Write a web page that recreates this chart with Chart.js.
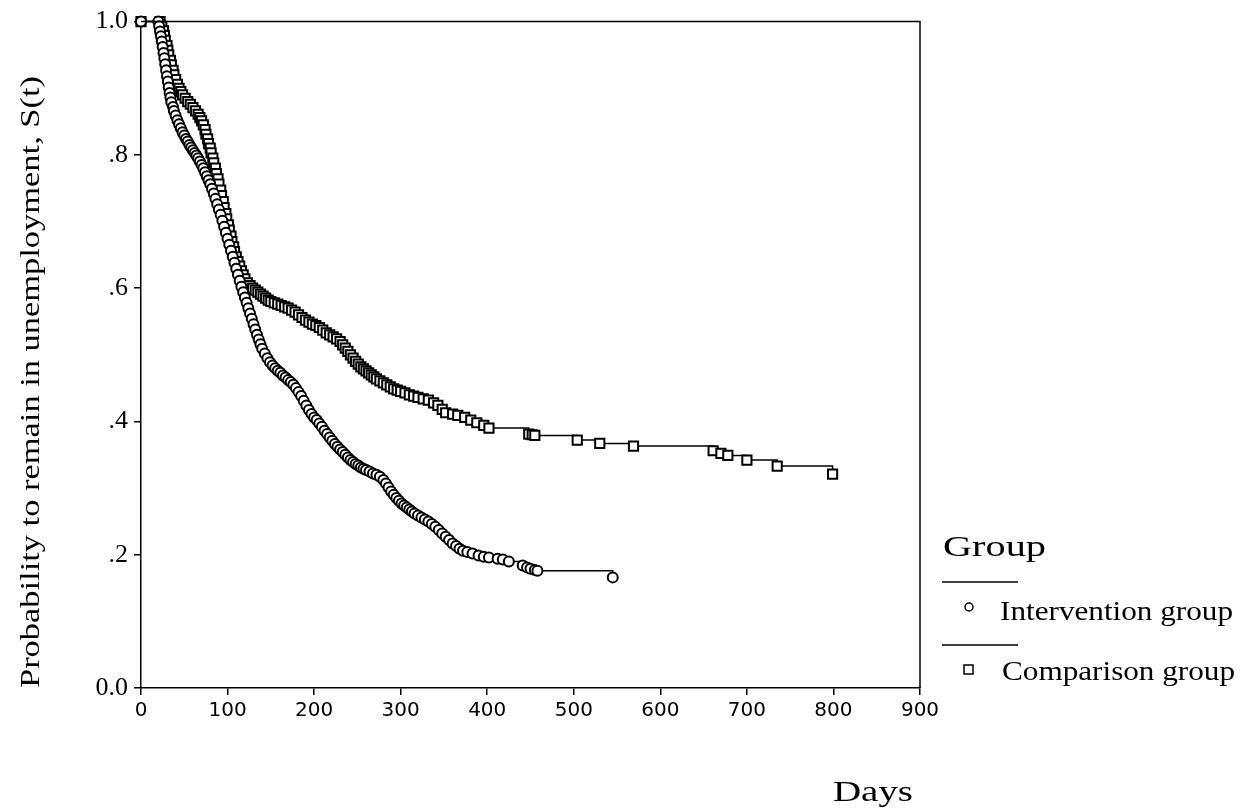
<!DOCTYPE html>
<html>
<head>
<meta charset="utf-8">
<script src="https://cdn.jsdelivr.net/npm/chart.js@4.4.1/dist/chart.umd.min.js"></script>
<style>
  html, body { margin: 0; padding: 0; background: #fff; }
  #wrap { width: 1242px; height: 810px; }
</style>
</head>
<body>
<div id="wrap"><canvas id="km" width="1242" height="810"></canvas></div>
<script>
// Kaplan-Meier curves (days, S(t)); every entry carries a marker
const interventionDays = [0, 20, 21, 22, 23, 24, 25, 26, 27, 28, 29, 30, 31, 32, 33, 34, 35, 37, 38, 40,
  42, 44, 46, 48, 50, 52, 54, 56, 58, 60, 62, 64, 66, 68, 70, 72, 74, 76, 78, 80,
  82, 84, 86, 88, 90, 92, 94, 96, 98, 100, 102, 104, 106, 108, 110, 112, 114, 116, 118, 120,
  122, 124, 126, 128, 130, 132, 134, 136, 138, 140, 143, 146, 149, 152, 155, 158, 161, 164, 167, 170,
  173, 176, 179, 182, 185, 188, 191, 194, 197, 200, 203, 206, 209, 212, 215, 218, 221, 224, 227, 230,
  233, 236, 239, 242, 245, 248, 251, 254, 257, 260, 264, 268, 272, 276, 280, 283, 286, 289, 292, 295,
  298, 301, 304, 307, 310, 313, 316, 320, 324, 328, 332, 336, 340, 344, 348, 352, 356, 360, 364, 368,
  372, 377, 383, 390, 396, 402, 412, 418, 425, 441, 446, 450, 455, 458, 545];
const interventionSurv = [1.0, 1.0, 0.993, 0.985, 0.978, 0.97, 0.962, 0.953, 0.945, 0.936, 0.927, 0.918, 0.91, 0.901, 0.893, 0.886, 0.879, 0.872, 0.866, 0.859,
  0.852, 0.846, 0.84, 0.834, 0.829, 0.824, 0.82, 0.815, 0.811, 0.807, 0.803, 0.799, 0.795, 0.79, 0.785, 0.78, 0.774, 0.768, 0.762, 0.756,
  0.749, 0.742, 0.734, 0.726, 0.718, 0.71, 0.701, 0.692, 0.683, 0.674, 0.665, 0.656, 0.647, 0.638, 0.629, 0.62, 0.611, 0.602, 0.594, 0.586,
  0.578, 0.57, 0.562, 0.554, 0.546, 0.538, 0.53, 0.523, 0.516, 0.509, 0.502, 0.495, 0.489, 0.484, 0.48, 0.476, 0.473, 0.469, 0.466, 0.462,
  0.459, 0.455, 0.45, 0.444, 0.438, 0.431, 0.424, 0.417, 0.411, 0.406, 0.402, 0.397, 0.392, 0.386, 0.381, 0.376, 0.371, 0.366, 0.362, 0.358,
  0.354, 0.35, 0.346, 0.342, 0.339, 0.336, 0.334, 0.331, 0.329, 0.327, 0.325, 0.322, 0.32, 0.317, 0.312, 0.307, 0.301, 0.295, 0.29, 0.285,
  0.281, 0.277, 0.274, 0.271, 0.268, 0.265, 0.262, 0.259, 0.256, 0.253, 0.25, 0.246, 0.242, 0.237, 0.232, 0.227, 0.222, 0.217, 0.213, 0.209,
  0.206, 0.204, 0.202, 0.199, 0.197, 0.196, 0.194, 0.193, 0.19, 0.184, 0.181, 0.179, 0.177, 0.176, 0.166];

const comparisonDays = [0, 22, 24, 26, 27, 28, 30, 31, 32, 34, 35, 37, 38, 40, 42, 44, 46, 48, 51, 54,
  57, 60, 63, 66, 68, 70, 72, 74, 75, 77, 78, 80, 81, 83, 84, 86, 87, 89, 90, 92,
  93, 95, 96, 98, 99, 101, 102, 104, 105, 107, 108, 110, 112, 114, 116, 118, 120, 123, 126, 129,
  132, 135, 138, 141, 144, 147, 150, 154, 158, 162, 166, 170, 174, 178, 182, 186, 190, 194, 198, 202,
  206, 210, 214, 218, 222, 226, 230, 233, 236, 239, 242, 245, 248, 251, 254, 257, 260, 263, 266, 269,
  272, 276, 280, 284, 288, 292, 296, 300, 305, 310, 315, 320, 326, 332, 338, 343, 348, 352, 360, 366,
  374, 381, 388, 396, 402, 448, 452, 455, 504, 530, 569, 661, 670, 678, 700, 735, 799];
const comparisonSurv = [1.0, 1.0, 0.993, 0.986, 0.979, 0.972, 0.964, 0.957, 0.95, 0.942, 0.935, 0.927, 0.92, 0.913, 0.906, 0.9, 0.895, 0.89, 0.885, 0.88,
  0.876, 0.871, 0.866, 0.861, 0.856, 0.851, 0.845, 0.838, 0.831, 0.824, 0.817, 0.81, 0.803, 0.795, 0.788, 0.78, 0.772, 0.764, 0.756, 0.747,
  0.739, 0.73, 0.721, 0.712, 0.704, 0.695, 0.687, 0.678, 0.67, 0.662, 0.655, 0.647, 0.64, 0.633, 0.626, 0.62, 0.614, 0.608, 0.604, 0.6,
  0.597, 0.594, 0.591, 0.588, 0.585, 0.582, 0.58, 0.578, 0.576, 0.574, 0.572, 0.57, 0.567, 0.564, 0.56, 0.556, 0.552, 0.549, 0.546, 0.544,
  0.541, 0.537, 0.533, 0.53, 0.527, 0.524, 0.52, 0.515, 0.51, 0.505, 0.5, 0.495, 0.49, 0.486, 0.482, 0.479, 0.476, 0.473, 0.47, 0.467,
  0.464, 0.461, 0.458, 0.455, 0.452, 0.449, 0.447, 0.445, 0.443, 0.44, 0.438, 0.436, 0.434, 0.432, 0.428, 0.424, 0.418, 0.413, 0.411, 0.409,
  0.406, 0.402, 0.398, 0.394, 0.39, 0.381, 0.38, 0.379, 0.372, 0.367, 0.363, 0.356, 0.352, 0.349, 0.342, 0.333, 0.321];

const xTicks = [0, 100, 200, 300, 400, 500, 600, 700, 800, 900];
const yTickLabels = { 0: '0.0', 2: '.2', 4: '.4', 6: '.6', 8: '.8', 10: '1.0' };

const groupNames = ['Intervention group', 'Comparison group'];

const serif = '"Liberation Serif", "Times New Roman", serif';

function toPoints(days, surv) {
  return days.map((d, i) => ({ x: d, y: surv[i] }));
}

// draw text squeezed/stretched to a given width (the source font is a wide serif)
function wideText(ctx, text, x, y, size, width, angle) {
  ctx.save();
  ctx.font = size + 'px ' + serif;
  ctx.fillStyle = '#000';
  ctx.textAlign = 'left';
  ctx.textBaseline = 'alphabetic';
  const w = ctx.measureText(text).width;
  ctx.translate(x, y);
  if (angle) ctx.rotate(angle);
  ctx.scale(width / w, 1);
  ctx.fillText(text, 0, 0);
  ctx.restore();
}

const framePlugin = {
  id: 'frame',
  afterDatasetsDraw(chart) {
    const { ctx, chartArea: a } = chart;
    ctx.save();
    ctx.strokeStyle = '#000';
    ctx.lineWidth = 1.5;
    ctx.beginPath();
    ctx.moveTo(a.left, a.top);
    ctx.lineTo(a.right, a.top);
    ctx.lineTo(a.right, a.bottom);
    ctx.stroke();
    ctx.restore();
  },
  afterDraw(chart) {
    const ctx = chart.ctx;
    // axis titles
    wideText(ctx, 'Probability to remain in unemployment, S(t)', 39, 688, 27, 612, -Math.PI / 2);
    wideText(ctx, 'Days', 833, 801, 30, 80);

    // legend block
    wideText(ctx, 'Group', 943, 556, 30, 103);
    ctx.save();
    ctx.strokeStyle = '#000';
    ctx.lineWidth = 1.5;
    [582, 645].forEach(y => {
      ctx.beginPath();
      ctx.moveTo(942, y);
      ctx.lineTo(1018, y);
      ctx.stroke();
    });
    ctx.fillStyle = '#fff';
    ctx.beginPath();
    ctx.arc(969, 607, 4, 0, Math.PI * 2);
    ctx.fill();
    ctx.stroke();
    ctx.fillRect(964, 665, 9, 9);
    ctx.strokeRect(964, 665, 9, 9);
    ctx.restore();
    wideText(ctx, groupNames[0], 1000, 620, 27, 233);
    wideText(ctx, groupNames[1], 1002, 680, 27, 233);
  }
};

const ctx = document.getElementById('km').getContext('2d');
new Chart(ctx, {
  type: 'line',
  data: {
    datasets: [
      {
        label: groupNames[0],
        data: toPoints(interventionDays, interventionSurv),
        stepped: 'before',
        borderColor: '#000',
        borderWidth: 1.5,
        pointStyle: 'circle',
        pointRadius: 5,
        pointBorderWidth: 2,
        pointBorderColor: '#000',
        pointBackgroundColor: '#fff',
        clip: false,
      },
      {
        label: groupNames[1],
        data: toPoints(comparisonDays, comparisonSurv),
        stepped: 'before',
        borderColor: '#000',
        borderWidth: 1.5,
        pointStyle: 'rect',
        pointRadius: 6.5,
        pointBorderWidth: 2,
        pointBorderColor: '#000',
        pointBackgroundColor: '#fff',
        clip: false,
      }
    ]
  },
  options: {
    responsive: false,
    animation: false,
    devicePixelRatio: 1,
    layout: { padding: { top: 20, right: 322, left: 0, bottom: 0 } },
    plugins: {
      legend: { display: false },
      tooltip: { enabled: false },
    },
    scales: {
      x: {
        type: 'linear',
        min: 0,
        max: 900,
        afterFit: s => { s.height = 122; },
        afterBuildTicks: s => { s.ticks = xTicks.map(v => ({ value: v })); },
        border: { display: true, color: '#000', width: 1.5 },
        grid: { drawOnChartArea: false, drawTicks: true, tickLength: 7, color: '#000', lineWidth: 1.5 },
        ticks: {
          color: '#000',
          padding: 4,
          maxRotation: 0,
          font: { family: '"DejaVu Sans", sans-serif', size: 20 },
        },
      },
      y: {
        min: 0,
        max: 1,
        afterFit: s => { s.width = 141; },
        border: { display: true, color: '#000', width: 1.5 },
        grid: { drawOnChartArea: false, drawTicks: true, tickLength: 7, color: '#000', lineWidth: 1.5 },
        ticks: {
          stepSize: 0.2,
          color: '#000',
          padding: 6,
          font: { family: serif, size: 26 },
          callback: v => yTickLabels[Math.round(v * 10)],
        },
      },
    },
  },
  plugins: [framePlugin],
});
</script>
</body>
</html>
